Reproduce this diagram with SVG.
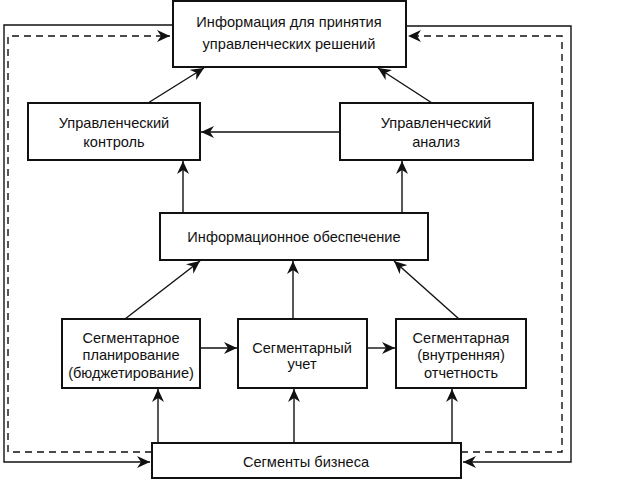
<svg xmlns="http://www.w3.org/2000/svg" width="640" height="480" viewBox="0 0 640 480">
<style>
.box{fill:#fff;stroke:#111;stroke-width:2}
.t{font-family:"Liberation Sans",Arial,sans-serif;font-size:14.6px;fill:#111;text-anchor:middle}
.ln{fill:none;stroke:#111;stroke-width:1.4}
.ds{fill:none;stroke:#111;stroke-width:1.4;stroke-dasharray:7,5}
</style>
<defs>
<marker id="ah" markerWidth="14" markerHeight="12" refX="13" refY="6" orient="auto" markerUnits="userSpaceOnUse">
<path d="M0,0 L13,6 L0,12 L4,6 Z" fill="#111"/>
</marker>
</defs>
<rect width="640" height="480" fill="#fff"/>
<g id="connectors">
<polyline class="ln" points="172,25 4,25 4,462 150,462" marker-end="url(#ah)"/>
<polyline class="ln" points="406,26 571,26 571,462 463,462" marker-end="url(#ah)"/>
<polyline class="ds" points="152,452 8,452 8,36 170,36" marker-end="url(#ah)"/>
<polyline class="ds" points="461,452 562,452 562,36 408,36" marker-end="url(#ah)"/>
<line class="ln" x1="148" y1="103" x2="204" y2="68" marker-end="url(#ah)"/>
<line class="ln" x1="432" y1="103" x2="378" y2="68" marker-end="url(#ah)"/>
<line class="ln" x1="340" y1="132" x2="201" y2="132" marker-end="url(#ah)"/>
<line class="ln" x1="183" y1="213" x2="183" y2="161" marker-end="url(#ah)"/>
<line class="ln" x1="402" y1="213" x2="402" y2="161" marker-end="url(#ah)"/>
<line class="ln" x1="125" y1="319" x2="200" y2="261" marker-end="url(#ah)"/>
<line class="ln" x1="293" y1="319" x2="293" y2="261" marker-end="url(#ah)"/>
<line class="ln" x1="459" y1="319" x2="394" y2="261" marker-end="url(#ah)"/>
<line class="ln" x1="200" y1="348" x2="237" y2="348" marker-end="url(#ah)"/>
<line class="ln" x1="367" y1="348" x2="395" y2="348" marker-end="url(#ah)"/>
<line class="ln" x1="158" y1="443" x2="158" y2="389" marker-end="url(#ah)"/>
<line class="ln" x1="294" y1="443" x2="294" y2="389" marker-end="url(#ah)"/>
<line class="ln" x1="452" y1="443" x2="452" y2="389" marker-end="url(#ah)"/>
</g>
<g id="info">
<rect class="box" x="173" y="1" width="233" height="66"/>
<text class="t" x="289" y="27">Информация для принятия</text>
<text class="t" x="289" y="49">управленческих решений</text>
</g>
<g id="control">
<rect class="box" x="28" y="103" width="172" height="57"/>
<text class="t" x="114" y="128">Управленческий</text>
<text class="t" x="114" y="147">контроль</text>
</g>
<g id="analysis">
<rect class="box" x="340" y="103" width="193" height="57"/>
<text class="t" x="436" y="128">Управленческий</text>
<text class="t" x="436" y="147">анализ</text>
</g>
<g id="infosupport">
<rect class="box" x="160" y="213" width="268" height="47"/>
<text class="t" x="294" y="242">Информационное обеспечение</text>
</g>
<g id="planning">
<rect class="box" x="62" y="319" width="138" height="69"/>
<text class="t" x="131" y="343">Сегментарное</text>
<text class="t" x="131" y="360">планирование</text>
<text class="t" x="131" y="378">(бюджетирование)</text>
</g>
<g id="accounting">
<rect class="box" x="238" y="319" width="129" height="69"/>
<text class="t" x="302" y="353">Сегментарный</text>
<text class="t" x="302" y="369">учет</text>
</g>
<g id="reporting">
<rect class="box" x="396" y="319" width="130" height="69"/>
<text class="t" x="461" y="343">Сегментарная</text>
<text class="t" x="461" y="360">(внутренняя)</text>
<text class="t" x="461" y="378">отчетность</text>
</g>
<g id="segments">
<rect class="box" x="152" y="443" width="309" height="35"/>
<text class="t" x="306" y="467">Сегменты бизнеса</text>
</g>
</svg>
